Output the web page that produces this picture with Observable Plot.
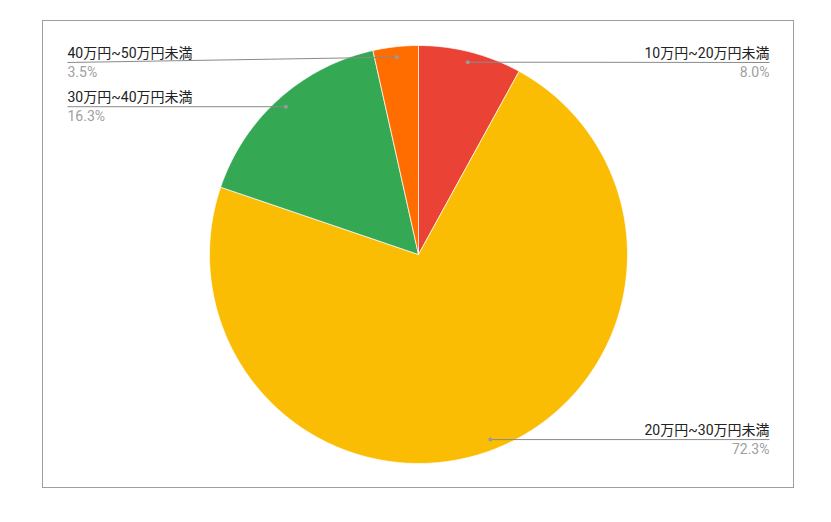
<!DOCTYPE html>
<html>
<head>
<meta charset="utf-8">
<script src="https://cdn.jsdelivr.net/npm/d3@7"></script>
<script src="https://cdn.jsdelivr.net/npm/@observablehq/plot@0.6"></script>
<style>
  html, body { margin: 0; padding: 0; background: #fff; }
  #chart svg { display: block; }
</style>
</head>
<body>
<div id="chart"></div>
<script>
// ---- data ----
const categories = ["10万円~20万円未満", "20万円~30万円未満", "30万円~40万円未満", "40万円~50万円未満"];
const values = [8.0, 72.3, 16.3, 3.5];
const percentLabels = ["8.0%", "72.3%", "16.3%", "3.5%"];
const colors = ["#EA4335", "#FBBC04", "#34A853", "#FF6D01"];

// ---- layout ----
const W = 831, H = 522;
const frame = {left: 42, top: 20, right: 793, bottom: 487};
const cx = 418, cy = 254, R = 209;
const font = "Roboto, 'Noto Sans CJK JP', sans-serif";

const pie = d3.pie().sort(null).value(d => d)(values);

// slice polygons in unit-radius coords (y up, angle clockwise from 12 o'clock)
const polys = [];
pie.forEach((p, i) => {
  const n = Math.max(4, Math.ceil((p.endAngle - p.startAngle) / (Math.PI / 180)));
  polys.push({k: i, x: 0, y: 0});
  for (let j = 0; j <= n; j++) {
    const a = p.startAngle + (p.endAngle - p.startAngle) * j / n;
    polys.push({k: i, x: Math.sin(a), y: Math.cos(a)});
  }
  polys.push({k: i, x: 0, y: 0});
});

// label anchors
const leftX = (67 - cx) / R, rightX = (769 - cx) / R, topClamp = (cy - 62) / R;
const labels = pie.map((p, i) => {
  const a = (p.startAngle + p.endAngle) / 2;
  const dx = 0.95 * Math.sin(a), dy = 0.95 * Math.cos(a);
  const side = dx >= 0 ? "right" : "left";
  return {
    name: categories[i], pct: percentLabels[i],
    dx, dy, side,
    lx: side === "right" ? rightX : leftX,
    ly: Math.min(dy, topClamp)
  };
});
const leftLabels = labels.filter(d => d.side === "left");
const rightLabels = labels.filter(d => d.side === "right");

const textMarks = (data, anchor) => [
  Plot.text(data, {x: "lx", y: "ly", text: "name", textAnchor: anchor,
    lineAnchor: "middle", dy: -9, fontSize: 14, fill: "#222"}),
  Plot.text(data, {x: "lx", y: "ly", text: "pct", textAnchor: anchor,
    lineAnchor: "middle", dy: 10, fontSize: 14, fill: "#a0a0a0"})
];

const chart = Plot.plot({
  width: W, height: H,
  marginLeft: frame.left, marginTop: frame.top,
  marginRight: W - frame.right, marginBottom: H - frame.bottom,
  x: {domain: [(frame.left - cx) / R, (frame.right - cx) / R], axis: null},
  y: {domain: [(cy - frame.bottom) / R, (cy - frame.top) / R], axis: null},
  style: {fontFamily: font, background: "#fff"},
  marks: [
    Plot.frame({stroke: "#9e9e9e", strokeWidth: 1}),
    Plot.line(polys, {x: "x", y: "y", z: "k", fill: d => colors[d.k], stroke: "#fff", strokeWidth: 0.7, curve: "linear"}),
    Plot.link(labels, {x1: "dx", y1: "dy", x2: "lx", y2: "ly", stroke: "#8a8a8a", strokeWidth: 1}),
    Plot.dot(labels, {x: "dx", y: "dy", r: 2, fill: "#9a9a9a"}),
    ...textMarks(leftLabels, "start"),
    ...textMarks(rightLabels, "end")
  ]
});
document.getElementById("chart").append(chart);
</script>
</body>
</html>
